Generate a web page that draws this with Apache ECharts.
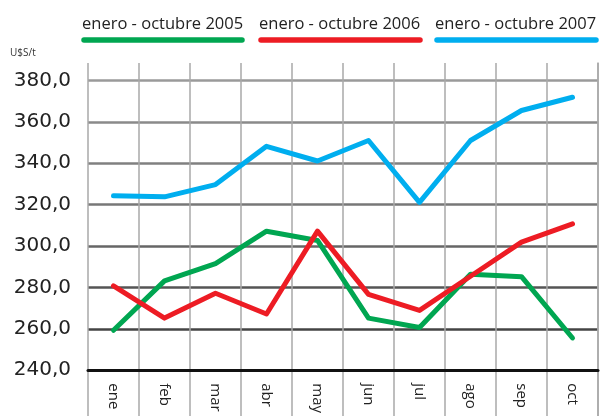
<!DOCTYPE html>
<html>
<head>
<meta charset="utf-8">
<script src="https://cdn.jsdelivr.net/npm/echarts@6/dist/echarts.min.js"></script>
<style>html,body{margin:0;padding:0;background:#fff}#c{width:604px;height:416px}</style>
</head>
<body>
<div id="c"></div>
<script>
const categories = ['ene','feb','mar','abr','may','jun','jul','ago','sep','oct'];
const s2005 = [259.3,283.2,291.5,307.2,302.7,265.2,260.7,286.4,285.2,255.6];
const s2006 = [280.8,265.2,277.2,267.2,307.2,276.7,268.9,285.4,301.9,310.7];
const s2007 = [324.3,323.8,329.7,348.2,341.1,351.0,321.1,351.0,365.5,371.9];
const seriesNames = ['enero - octubre 2005','enero - octubre 2006','enero - octubre 2007'];
const seriesColors = ['#00a651','#ed1c24','#00aeef'];
const yMin = 240, yMax = 380, yStep = 20;
const unitLabel = 'U$S/t';

const chart = echarts.init(document.getElementById('c'), null, {renderer:'canvas'});
const allData = [s2005, s2006, s2007];

const legendX = [[82,244],[259,422],[435,598]];
const graphics = [];
seriesNames.forEach((n,i)=>{
  graphics.push({type:'text', left:legendX[i][0], top:16, style:{text:n, font:'16.5px "Open Sans"', fill:'#222'}});
  graphics.push({type:'line', shape:{x1:legendX[i][0]+2,y1:40,x2:legendX[i][1]-2,y2:40}, style:{stroke:seriesColors[i], lineWidth:5.5, lineCap:'round'}});
});
graphics.push({type:'text', left:10, top:48, style:{text:unitLabel, font:'10px "Open Sans"', fill:'#333'}});

const sepColor = '#a8a8a8';

chart.setOption({
  animation:false,
  backgroundColor:'#fff',
  graphic: graphics,
  grid:[
    {left:88, right:6, top:80.5, bottom:43.5},
    {left:88, right:6, top:63, bottom:0}
  ],
  xAxis:[
    {type:'category', gridIndex:0, data:categories, boundaryGap:true,
     axisLine:{show:true, lineStyle:{color:'#111', width:3}},
     axisTick:{show:false},
     splitLine:{show:false},
     axisLabel:{rotate:-90, margin:13, color:'#222', fontFamily:'Open Sans', fontSize:15}
    },
    {type:'category', gridIndex:1, data:categories, boundaryGap:true,
     axisLine:{show:false}, axisTick:{show:false}, axisLabel:{show:false},
     splitLine:{show:true, lineStyle:{color:sepColor, width:1.5}}
    }
  ],
  yAxis:[
    {type:'value', gridIndex:0, min:yMin, max:yMax, interval:yStep,
     axisLine:{show:false}, axisTick:{show:false},
     axisLabel:{margin:17, color:'#222', fontFamily:'DejaVu Sans', fontSize:20,
       formatter:v=>v.toFixed(1).replace('.',',')},
     splitLine:{show:true, lineStyle:{width:2.5, color:['#111','#444','#555','#666','#777','#808080','#8a8a8a','#9a9a9a']}}
    },
    {type:'value', gridIndex:1, min:0, max:1, position:'right',
     axisLine:{show:true, lineStyle:{color:sepColor, width:1.5}},
     axisTick:{show:false}, axisLabel:{show:false}, splitLine:{show:false}}
  ],
  series: allData.map((d,i)=>({
    name:seriesNames[i], type:'line', xAxisIndex:0, yAxisIndex:0, data:d,
    symbol:'none', z:5,
    lineStyle:{color:seriesColors[i], width:5, cap:'round', join:'round'}
  }))
});
</script>
</body>
</html>
